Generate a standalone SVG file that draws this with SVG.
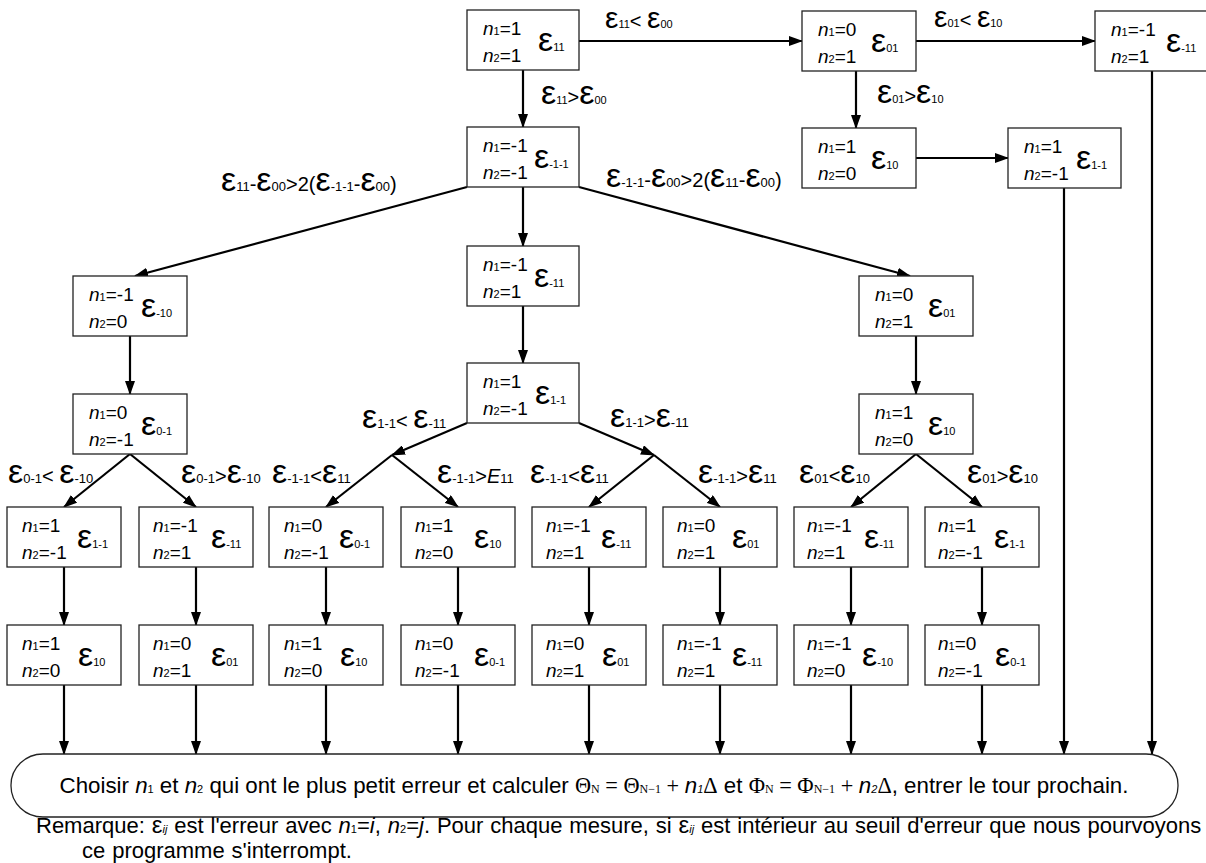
<svg xmlns="http://www.w3.org/2000/svg" width="1206" height="863" viewBox="0 0 1206 863">
<style>
.box{fill:#fff;stroke:#222;stroke-width:1.3}
.t{font-family:"Liberation Sans",Arial,sans-serif;font-size:19px;fill:#000}
.l{font-family:"Liberation Sans",Arial,sans-serif;font-size:20px;fill:#000}
.i{font-style:italic}
.sub{font-size:11px}
.ls{font-size:13px}
.eps{font-size:34px}
.ept{font-size:30px}
.c{fill:none;stroke:#000;stroke-width:2.2}
.a{marker-end:url(#ah)}
.big{font-family:"Liberation Sans",Arial,sans-serif;font-size:22.3px;fill:#000}
.rm{font-family:"Liberation Sans",Arial,sans-serif;font-size:22px;word-spacing:0.8px;fill:#000}
.sf{font-family:"Liberation Serif","Times New Roman",serif}
.sfs{font-family:"Liberation Serif","Times New Roman",serif;font-size:12px}
</style>
<defs>
<marker id="ah" viewBox="0 0 14 10" refX="13" refY="5" markerWidth="14" markerHeight="10" markerUnits="userSpaceOnUse" orient="auto"><path d="M0,0 L14,5 L0,10 z" fill="#000"/></marker>
</defs>

<g id="connectors">
<path class="c a" d="M579,41 H802"/>
<path class="c a" d="M916,41 H1095"/>
<path class="c a" d="M523,70 V127"/>
<path class="c a" d="M856,71 V128"/>
<path class="c a" d="M916,158 H1008"/>
<path class="c a" d="M1064,188 V754"/>
<path class="c a" d="M1152,71 V754"/>
<path class="c a" d="M467,187 L135,276"/>
<path class="c a" d="M579,187 L910,276"/>
<path class="c a" d="M523,187 V246"/>
<path class="c a" d="M523,306 V363"/>
<path class="c a" d="M130,336 V394"/>
<path class="c a" d="M916,336 V394"/>
<path class="c a" d="M130,454 L64,507"/>
<path class="c a" d="M130,454 L196,507"/>
<path class="c a" d="M467,423 L392,455"/>
<path class="c a" d="M392,455 L326,507"/>
<path class="c a" d="M392,455 L458,507"/>
<path class="c a" d="M579,423 L654,455"/>
<path class="c a" d="M654,455 L589,507"/>
<path class="c a" d="M654,455 L720,507"/>
<path class="c a" d="M916,454 L851,507"/>
<path class="c a" d="M916,454 L982,507"/>
<path class="c a" d="M64,567 V625"/>
<path class="c a" d="M196,567 V625"/>
<path class="c a" d="M326,567 V625"/>
<path class="c a" d="M458,567 V625"/>
<path class="c a" d="M589,567 V625"/>
<path class="c a" d="M720,567 V625"/>
<path class="c a" d="M851,567 V625"/>
<path class="c a" d="M982,567 V625"/>
<path class="c a" d="M64,685 V754"/>
<path class="c a" d="M196,685 V754"/>
<path class="c a" d="M326,685 V754"/>
<path class="c a" d="M458,685 V754"/>
<path class="c a" d="M589,685 V754"/>
<path class="c a" d="M720,685 V754"/>
<path class="c a" d="M851,685 V754"/>
<path class="c a" d="M982,685 V754"/>
</g>

<g id="nA"><rect class="box" x="467" y="10" width="112" height="60"/>
<text class="t" x="483" y="35"><tspan class="i">n</tspan><tspan class="sub">1</tspan>=1</text>
<text class="t" x="483" y="62"><tspan class="i">n</tspan><tspan class="sub">2</tspan>=1</text>
<text class="t" x="538" y="51"><tspan class="eps">ε</tspan><tspan class="sub">11</tspan></text></g>

<g id="nB"><rect class="box" x="802" y="11" width="114" height="60"/>
<text class="t" x="818" y="36"><tspan class="i">n</tspan><tspan class="sub">1</tspan>=0</text>
<text class="t" x="818" y="63"><tspan class="i">n</tspan><tspan class="sub">2</tspan>=1</text>
<text class="t" x="871" y="52"><tspan class="eps">ε</tspan><tspan class="sub">01</tspan></text></g>

<g id="nC"><rect class="box" x="1095" y="11" width="114" height="60"/>
<text class="t" x="1111" y="36"><tspan class="i">n</tspan><tspan class="sub">1</tspan>=-1</text>
<text class="t" x="1111" y="63"><tspan class="i">n</tspan><tspan class="sub">2</tspan>=1</text>
<text class="t" x="1166" y="52"><tspan class="eps">ε</tspan><tspan class="sub">-11</tspan></text></g>

<g id="nF"><rect class="box" x="467" y="127" width="112" height="60"/>
<text class="t" x="483" y="152"><tspan class="i">n</tspan><tspan class="sub">1</tspan>=-1</text>
<text class="t" x="483" y="179"><tspan class="i">n</tspan><tspan class="sub">2</tspan>=-1</text>
<text class="t" x="534" y="168"><tspan class="eps">ε</tspan><tspan class="sub">-1-1</tspan></text></g>

<g id="nD"><rect class="box" x="802" y="128" width="114" height="60"/>
<text class="t" x="818" y="153"><tspan class="i">n</tspan><tspan class="sub">1</tspan>=1</text>
<text class="t" x="818" y="180"><tspan class="i">n</tspan><tspan class="sub">2</tspan>=0</text>
<text class="t" x="871" y="169"><tspan class="eps">ε</tspan><tspan class="sub">10</tspan></text></g>

<g id="nE"><rect class="box" x="1008" y="128" width="113" height="60"/>
<text class="t" x="1024" y="153"><tspan class="i">n</tspan><tspan class="sub">1</tspan>=1</text>
<text class="t" x="1024" y="180"><tspan class="i">n</tspan><tspan class="sub">2</tspan>=-1</text>
<text class="t" x="1076" y="169"><tspan class="eps">ε</tspan><tspan class="sub">1-1</tspan></text></g>

<g id="nG"><rect class="box" x="467" y="246" width="112" height="60"/>
<text class="t" x="483" y="271"><tspan class="i">n</tspan><tspan class="sub">1</tspan>=-1</text>
<text class="t" x="483" y="298"><tspan class="i">n</tspan><tspan class="sub">2</tspan>=1</text>
<text class="t" x="534" y="287"><tspan class="eps">ε</tspan><tspan class="sub">-11</tspan></text></g>

<g id="nH"><rect class="box" x="73" y="276" width="114" height="60"/>
<text class="t" x="89" y="301"><tspan class="i">n</tspan><tspan class="sub">1</tspan>=-1</text>
<text class="t" x="89" y="328"><tspan class="i">n</tspan><tspan class="sub">2</tspan>=0</text>
<text class="t" x="141" y="317"><tspan class="eps">ε</tspan><tspan class="sub">-10</tspan></text></g>

<g id="nI"><rect class="box" x="859" y="276" width="114" height="60"/>
<text class="t" x="875" y="301"><tspan class="i">n</tspan><tspan class="sub">1</tspan>=0</text>
<text class="t" x="875" y="328"><tspan class="i">n</tspan><tspan class="sub">2</tspan>=1</text>
<text class="t" x="928" y="317"><tspan class="eps">ε</tspan><tspan class="sub">01</tspan></text></g>

<g id="nL"><rect class="box" x="467" y="363" width="112" height="60"/>
<text class="t" x="483" y="388"><tspan class="i">n</tspan><tspan class="sub">1</tspan>=1</text>
<text class="t" x="483" y="415"><tspan class="i">n</tspan><tspan class="sub">2</tspan>=-1</text>
<text class="t" x="535" y="404"><tspan class="eps">ε</tspan><tspan class="sub">1-1</tspan></text></g>

<g id="nK"><rect class="box" x="73" y="394" width="114" height="60"/>
<text class="t" x="89" y="419"><tspan class="i">n</tspan><tspan class="sub">1</tspan>=0</text>
<text class="t" x="89" y="446"><tspan class="i">n</tspan><tspan class="sub">2</tspan>=-1</text>
<text class="t" x="141" y="435"><tspan class="eps">ε</tspan><tspan class="sub">0-1</tspan></text></g>

<g id="nJ"><rect class="box" x="859" y="394" width="114" height="60"/>
<text class="t" x="875" y="419"><tspan class="i">n</tspan><tspan class="sub">1</tspan>=1</text>
<text class="t" x="875" y="446"><tspan class="i">n</tspan><tspan class="sub">2</tspan>=0</text>
<text class="t" x="928" y="435"><tspan class="eps">ε</tspan><tspan class="sub">10</tspan></text></g>

<g id="r1a"><rect class="box" x="7" y="507" width="114" height="60"/>
<text class="t" x="22" y="532"><tspan class="i">n</tspan><tspan class="sub">1</tspan>=1</text>
<text class="t" x="22" y="559"><tspan class="i">n</tspan><tspan class="sub">2</tspan>=-1</text>
<text class="t" x="77" y="548"><tspan class="eps">ε</tspan><tspan class="sub">1-1</tspan></text></g>
<g id="r1b"><rect class="box" x="139" y="507" width="114" height="60"/>
<text class="t" x="153" y="532"><tspan class="i">n</tspan><tspan class="sub">1</tspan>=-1</text>
<text class="t" x="153" y="559"><tspan class="i">n</tspan><tspan class="sub">2</tspan>=1</text>
<text class="t" x="211" y="548"><tspan class="eps">ε</tspan><tspan class="sub">-11</tspan></text></g>
<g id="r1c"><rect class="box" x="269" y="507" width="114" height="60"/>
<text class="t" x="284" y="532"><tspan class="i">n</tspan><tspan class="sub">1</tspan>=0</text>
<text class="t" x="284" y="559"><tspan class="i">n</tspan><tspan class="sub">2</tspan>=-1</text>
<text class="t" x="339" y="548"><tspan class="eps">ε</tspan><tspan class="sub">0-1</tspan></text></g>
<g id="r1d"><rect class="box" x="401" y="507" width="114" height="60"/>
<text class="t" x="415" y="532"><tspan class="i">n</tspan><tspan class="sub">1</tspan>=1</text>
<text class="t" x="415" y="559"><tspan class="i">n</tspan><tspan class="sub">2</tspan>=0</text>
<text class="t" x="474" y="548"><tspan class="eps">ε</tspan><tspan class="sub">10</tspan></text></g>
<g id="r1e"><rect class="box" x="532" y="507" width="114" height="60"/>
<text class="t" x="546" y="532"><tspan class="i">n</tspan><tspan class="sub">1</tspan>=-1</text>
<text class="t" x="546" y="559"><tspan class="i">n</tspan><tspan class="sub">2</tspan>=1</text>
<text class="t" x="601" y="548"><tspan class="eps">ε</tspan><tspan class="sub">-11</tspan></text></g>
<g id="r1f"><rect class="box" x="663" y="507" width="114" height="60"/>
<text class="t" x="677" y="532"><tspan class="i">n</tspan><tspan class="sub">1</tspan>=0</text>
<text class="t" x="677" y="559"><tspan class="i">n</tspan><tspan class="sub">2</tspan>=1</text>
<text class="t" x="732" y="548"><tspan class="eps">ε</tspan><tspan class="sub">01</tspan></text></g>
<g id="r1g"><rect class="box" x="794" y="507" width="114" height="60"/>
<text class="t" x="807" y="532"><tspan class="i">n</tspan><tspan class="sub">1</tspan>=-1</text>
<text class="t" x="807" y="559"><tspan class="i">n</tspan><tspan class="sub">2</tspan>=1</text>
<text class="t" x="864" y="548"><tspan class="eps">ε</tspan><tspan class="sub">-11</tspan></text></g>
<g id="r1h"><rect class="box" x="925" y="507" width="114" height="60"/>
<text class="t" x="938" y="532"><tspan class="i">n</tspan><tspan class="sub">1</tspan>=1</text>
<text class="t" x="938" y="559"><tspan class="i">n</tspan><tspan class="sub">2</tspan>=-1</text>
<text class="t" x="994" y="548"><tspan class="eps">ε</tspan><tspan class="sub">1-1</tspan></text></g>

<g id="r2a"><rect class="box" x="7" y="625" width="114" height="60"/>
<text class="t" x="22" y="650"><tspan class="i">n</tspan><tspan class="sub">1</tspan>=1</text>
<text class="t" x="22" y="677"><tspan class="i">n</tspan><tspan class="sub">2</tspan>=0</text>
<text class="t" x="78" y="666"><tspan class="eps">ε</tspan><tspan class="sub">10</tspan></text></g>
<g id="r2b"><rect class="box" x="139" y="625" width="114" height="60"/>
<text class="t" x="153" y="650"><tspan class="i">n</tspan><tspan class="sub">1</tspan>=0</text>
<text class="t" x="153" y="677"><tspan class="i">n</tspan><tspan class="sub">2</tspan>=1</text>
<text class="t" x="211" y="666"><tspan class="eps">ε</tspan><tspan class="sub">01</tspan></text></g>
<g id="r2c"><rect class="box" x="269" y="625" width="114" height="60"/>
<text class="t" x="284" y="650"><tspan class="i">n</tspan><tspan class="sub">1</tspan>=1</text>
<text class="t" x="284" y="677"><tspan class="i">n</tspan><tspan class="sub">2</tspan>=0</text>
<text class="t" x="340" y="666"><tspan class="eps">ε</tspan><tspan class="sub">10</tspan></text></g>
<g id="r2d"><rect class="box" x="401" y="625" width="114" height="60"/>
<text class="t" x="415" y="650"><tspan class="i">n</tspan><tspan class="sub">1</tspan>=0</text>
<text class="t" x="415" y="677"><tspan class="i">n</tspan><tspan class="sub">2</tspan>=-1</text>
<text class="t" x="474" y="666"><tspan class="eps">ε</tspan><tspan class="sub">0-1</tspan></text></g>
<g id="r2e"><rect class="box" x="532" y="625" width="114" height="60"/>
<text class="t" x="546" y="650"><tspan class="i">n</tspan><tspan class="sub">1</tspan>=0</text>
<text class="t" x="546" y="677"><tspan class="i">n</tspan><tspan class="sub">2</tspan>=1</text>
<text class="t" x="602" y="666"><tspan class="eps">ε</tspan><tspan class="sub">01</tspan></text></g>
<g id="r2f"><rect class="box" x="663" y="625" width="114" height="60"/>
<text class="t" x="677" y="650"><tspan class="i">n</tspan><tspan class="sub">1</tspan>=-1</text>
<text class="t" x="677" y="677"><tspan class="i">n</tspan><tspan class="sub">2</tspan>=1</text>
<text class="t" x="732" y="666"><tspan class="eps">ε</tspan><tspan class="sub">-11</tspan></text></g>
<g id="r2g"><rect class="box" x="794" y="625" width="114" height="60"/>
<text class="t" x="807" y="650"><tspan class="i">n</tspan><tspan class="sub">1</tspan>=-1</text>
<text class="t" x="807" y="677"><tspan class="i">n</tspan><tspan class="sub">2</tspan>=0</text>
<text class="t" x="862" y="666"><tspan class="eps">ε</tspan><tspan class="sub">-10</tspan></text></g>
<g id="r2h"><rect class="box" x="925" y="625" width="114" height="60"/>
<text class="t" x="938" y="650"><tspan class="i">n</tspan><tspan class="sub">1</tspan>=0</text>
<text class="t" x="938" y="677"><tspan class="i">n</tspan><tspan class="sub">2</tspan>=-1</text>
<text class="t" x="995" y="666"><tspan class="eps">ε</tspan><tspan class="sub">0-1</tspan></text></g>

<g id="labels">
<text class="l" x="605" y="28"><tspan class="ept">ε</tspan><tspan class="sub">11</tspan>&lt; <tspan class="ept">ε</tspan><tspan class="sub">00</tspan></text>
<text class="l" x="934" y="27"><tspan class="ept">ε</tspan><tspan class="sub">01</tspan>&lt; <tspan class="ept">ε</tspan><tspan class="sub">10</tspan></text>
<text class="l" x="541" y="104"><tspan class="eps">ε</tspan><tspan class="sub">11</tspan>&gt;<tspan class="eps">ε</tspan><tspan class="sub">00</tspan></text>
<text class="l" x="877" y="103"><tspan class="eps">ε</tspan><tspan class="sub">01</tspan>&gt;<tspan class="eps">ε</tspan><tspan class="sub">10</tspan></text>
<text class="l" x="221" y="191"><tspan class="eps">ε</tspan><tspan class="ls">11</tspan>-<tspan class="eps">ε</tspan><tspan class="ls">00</tspan>&gt;2(<tspan class="eps">ε</tspan><tspan class="ls">-1-1</tspan>-<tspan class="eps">ε</tspan><tspan class="ls">00</tspan>)</text>
<text class="l" x="606" y="187"><tspan class="eps">ε</tspan><tspan class="ls">-1-1</tspan>-<tspan class="eps">ε</tspan><tspan class="ls">00</tspan>&gt;2(<tspan class="eps">ε</tspan><tspan class="ls">11</tspan>-<tspan class="eps">ε</tspan><tspan class="ls">00</tspan>)</text>
<text class="l" x="362" y="428"><tspan class="eps">ε</tspan><tspan class="ls">1-1</tspan>&lt; <tspan class="eps">ε</tspan><tspan class="ls">-11</tspan></text>
<text class="l" x="610" y="427"><tspan class="eps">ε</tspan><tspan class="ls">1-1</tspan>&gt;<tspan class="eps">ε</tspan><tspan class="ls">-11</tspan></text>
<text class="l" x="8" y="483"><tspan class="eps">ε</tspan><tspan class="ls">0-1</tspan>&lt; <tspan class="eps">ε</tspan><tspan class="ls">-10</tspan></text>
<text class="l" x="181" y="483"><tspan class="eps">ε</tspan><tspan class="ls">0-1</tspan>&gt;<tspan class="eps">ε</tspan><tspan class="ls">-10</tspan></text>
<text class="l" x="272" y="483"><tspan class="eps">ε</tspan><tspan class="ls">-1-1</tspan>&lt;<tspan class="eps">ε</tspan><tspan class="ls">11</tspan></text>
<text class="l" x="437" y="483"><tspan class="eps">ε</tspan><tspan class="ls">-1-1</tspan>&gt;<tspan class="i">E</tspan><tspan class="ls">11</tspan></text>
<text class="l" x="530" y="483"><tspan class="eps">ε</tspan><tspan class="ls">-1-1</tspan>&lt;<tspan class="eps">ε</tspan><tspan class="ls">11</tspan></text>
<text class="l" x="698" y="483"><tspan class="eps">ε</tspan><tspan class="ls">-1-1</tspan>&gt;<tspan class="eps">ε</tspan><tspan class="ls">11</tspan></text>
<text class="l" x="799" y="483"><tspan class="eps">ε</tspan><tspan class="ls">01</tspan>&lt;<tspan class="eps">ε</tspan><tspan class="ls">10</tspan></text>
<text class="l" x="967" y="483"><tspan class="eps">ε</tspan><tspan class="ls">01</tspan>&gt;<tspan class="eps">ε</tspan><tspan class="ls">10</tspan></text>
</g>

<g id="final">
<rect class="box" x="11" y="754" width="1167" height="63" rx="32" ry="31"/>
<text class="big" x="594" y="793" text-anchor="middle">Choisir <tspan class="i">n</tspan><tspan font-size="11">1</tspan> et <tspan class="i">n</tspan><tspan font-size="11">2</tspan> qui ont le plus petit erreur et calculer <tspan class="sf">Θ</tspan><tspan class="sfs">N</tspan><tspan class="sf"> = Θ</tspan><tspan class="sfs">N−1</tspan><tspan class="sf"> + </tspan><tspan class="i">n</tspan><tspan class="i" font-size="11">1</tspan><tspan class="sf">Δ</tspan> et <tspan class="sf">Φ</tspan><tspan class="sfs">N</tspan><tspan class="sf"> = Φ</tspan><tspan class="sfs">N−1</tspan><tspan class="sf"> + </tspan><tspan class="i">n</tspan><tspan class="i" font-size="11">2</tspan><tspan class="sf">Δ</tspan>, entrer le tour prochain.</text>
</g>

<g id="note">
<text class="rm" x="36" y="833">Remarque: <tspan font-size="24">ε</tspan><tspan class="i" font-size="11">ij</tspan> est l'erreur avec <tspan class="i">n</tspan><tspan font-size="11">1</tspan>=<tspan class="i">i</tspan>, <tspan class="i">n</tspan><tspan font-size="11">2</tspan>=<tspan class="i">j</tspan>. Pour chaque mesure, si <tspan font-size="24">ε</tspan><tspan class="i" font-size="11">ij</tspan> est intérieur au seuil d'erreur que nous pourvoyons</text>
<text class="rm" x="82" y="858">ce programme s'interrompt.</text>
</g>
</svg>
